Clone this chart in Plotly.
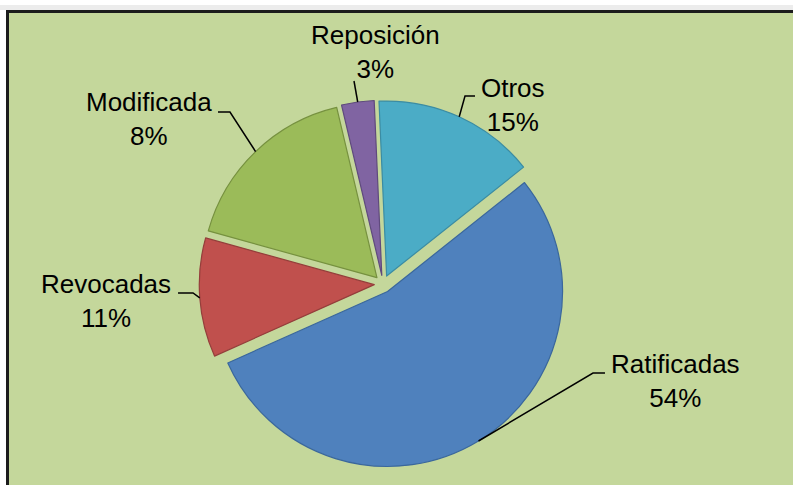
import numpy as np
import plotly.graph_objs as go

# slice data (angles) and the label text shown next to each slice
categories = ["Otros", "Ratificadas", "Revocadas", "Modificada", "Reposición"]
values = [15, 54, 11, 17, 3]
label_pct = ["15%", "54%", "11%", "8%", "3%"]

colors = ["#4BACC6", "#4F81BD", "#C0504D", "#9BBB59", "#8064A2"]
edge_colors = ["#3B8CA3", "#3A679C", "#943E3B", "#76913F", "#5F4A7D"]

W, H = 793, 485
# pie geometry in pixels
cx, cy = 383, 284
radius = 175
pull = 0.05
rotation = -2.5

# where the label blocks sit (pixel centres) and the elbow of each leader line
label_pos = {
    "Otros": (513, 105),
    "Ratificadas": (675, 381),
    "Revocadas": (106, 301),
    "Modificada": (149, 119),
    "Reposición": (375, 52),
}
elbows = {
    "Otros": [(465, 96), (475, 96)],
    "Ratificadas": [(593, 373), (605, 373)],
    "Revocadas": [(193, 293), (178, 293)],
    "Modificada": [(230, 112), (218, 112)],
    "Reposición": [(354, 81)],
}


def to_paper(x, y):
    return x / W, 1 - y / H


half = radius * (1 + pull)
x0, y0 = to_paper(cx - half, cy + half)
x1, y1 = to_paper(cx + half, cy - half)

fig = go.Figure()
fig.add_trace(go.Pie(
    labels=categories,
    values=values,
    sort=False,
    direction="clockwise",
    rotation=rotation,
    pull=[pull] * len(values),
    marker=dict(colors=colors, line=dict(color=edge_colors, width=1.2)),
    textinfo="none",
    hoverinfo="label+percent",
    showlegend=False,
    domain=dict(x=[x0, x1], y=[y0, y1]),
))

shapes = []
# soft shadow above the chart frame
shapes.append(dict(type="rect", xref="paper", yref="paper", layer="below",
                   x0=0, x1=1, y0=1 - 10 / H, y1=1 - 5 / H,
                   fillcolor="#ececec", line=dict(width=0)))
# green chart area with dark frame (runs off the right and bottom)
shapes.append(dict(type="rect", xref="paper", yref="paper", layer="below",
                   x0=7.5 / W, x1=1.05, y0=-0.05, y1=1 - 11.5 / H,
                   fillcolor="#C4D79B", line=dict(color="#1c1c1c", width=3)))

# leader lines: start on the slice edge at its mid angle
total = float(sum(values))
cum = 0.0
annotations = []
for name, v, pct in zip(categories, values, label_pct):
    mid = np.radians(rotation + 360 * (cum + v / 2) / total)
    cum += v
    ex = cx + radius * (1 + pull) * np.sin(mid)
    ey = cy - radius * (1 + pull) * np.cos(mid)
    pts = [(ex, ey)] + elbows[name]
    path = ""
    for i, (px, py) in enumerate(pts):
        qx, qy = to_paper(px, py)
        path += ("M" if i == 0 else " L") + " %.4f %.4f" % (qx, qy)
    shapes.append(dict(type="path", xref="paper", yref="paper", path=path,
                       line=dict(color="black", width=1.5)))

    lx, ly = to_paper(*label_pos[name])
    annotations.append(dict(x=lx, y=ly, xref="paper", yref="paper",
                            text=name + "<br>" + pct, showarrow=False,
                            xanchor="center", yanchor="middle",
                            font=dict(family="Liberation Sans, Arial", size=26, color="black")))

fig.update_layout(
    width=W, height=H,
    margin=dict(l=0, r=0, t=0, b=0),
    paper_bgcolor="white",
    shapes=shapes,
    annotations=annotations,
)

# drop the page's default body margin so the figure fills the window
fig.write_html("out.html", config={"displayModeBar": False},
               post_script="document.body.style.margin='0';document.body.style.overflow='hidden';")
